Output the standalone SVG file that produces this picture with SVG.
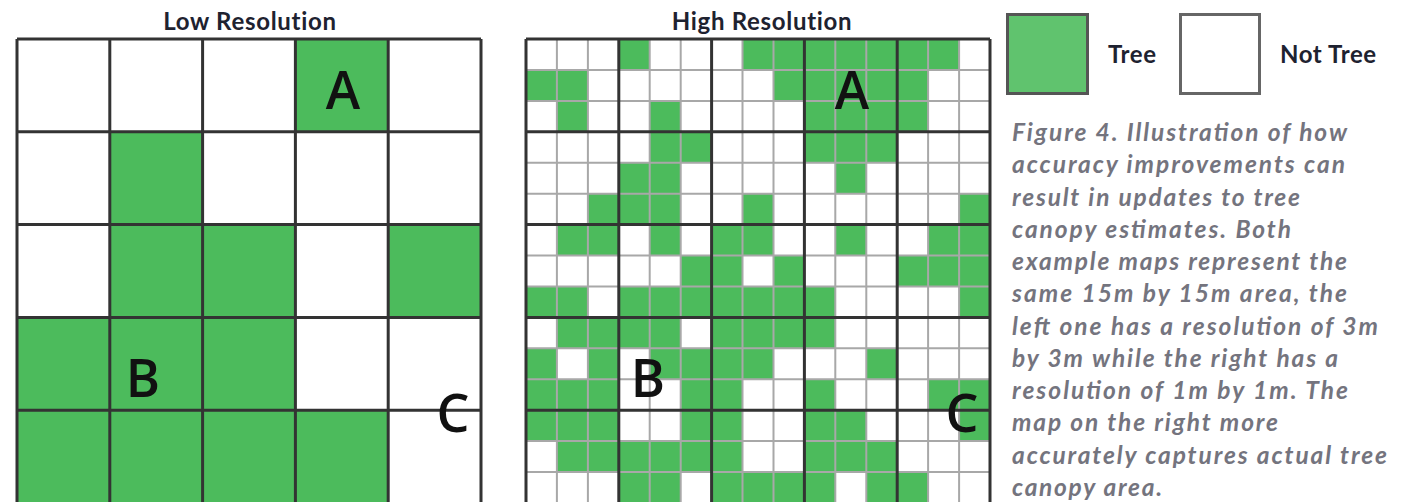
<svg xmlns="http://www.w3.org/2000/svg" width="1409" height="502" viewBox="0 0 1409 502">
<style>
.g{fill:#4cbb5c}
.thin{stroke:#a8a8a8;stroke-width:2;fill:none}
.thick{stroke:#333;stroke-width:3;fill:none}
.title{font-family:Lato,"Liberation Sans",sans-serif;font-weight:bold;font-size:24px;letter-spacing:0.7px;fill:#1e2230;text-anchor:middle}
.lbl{font-family:"Open Sans","Liberation Sans",sans-serif;font-weight:600;font-size:52px;fill:#111;text-anchor:middle}
.leg{font-family:Lato,"Liberation Sans",sans-serif;font-weight:bold;font-size:24px;letter-spacing:0.6px;fill:#1e2230}
.cap{font-family:Lato,"Liberation Sans",sans-serif;font-style:italic;font-weight:bold;font-size:24.5px;fill:#74747e}
</style>
<rect width="1409" height="502" fill="#fff"/>
<g id="low-res">
<text class="title" x="250" y="30">Low Resolution</text>
<g transform="translate(17 39) scale(92.8)">
<rect class="g" x="3" y="0" width="1" height="1"/>
<rect class="g" x="1" y="1" width="1" height="1"/>
<rect class="g" x="1" y="2" width="2" height="1"/>
<rect class="g" x="4" y="2" width="1" height="1"/>
<rect class="g" x="0" y="3" width="3" height="1"/>
<rect class="g" x="0" y="4" width="4" height="1"/>
</g>
<path class="thick" d="M17 39V503M109.8 39V503M202.6 39V503M295.4 39V503M388.2 39V503M481 39V503M17 39H481M17 131.8H481M17 224.6H481M17 317.4H481M17 410.2H481"/>
<text class="lbl" x="343" y="109">A</text>
<text class="lbl" x="143" y="397">B</text>
<text class="lbl" x="453" y="432">C</text>
</g>
<g id="high-res">
<text class="title" x="762" y="30">High Resolution</text>
<g transform="translate(526 39) scale(30.9333)">
<rect class="g" x="3" y="0" width="1" height="1"/><rect class="g" x="7" y="0" width="7" height="1"/>
<rect class="g" x="0" y="1" width="2" height="1"/><rect class="g" x="8" y="1" width="5" height="1"/>
<rect class="g" x="1" y="2" width="1" height="1"/><rect class="g" x="4" y="2" width="1" height="1"/><rect class="g" x="9" y="2" width="4" height="1"/>
<rect class="g" x="4" y="3" width="2" height="1"/><rect class="g" x="9" y="3" width="3" height="1"/>
<rect class="g" x="3" y="4" width="2" height="1"/><rect class="g" x="10" y="4" width="1" height="1"/>
<rect class="g" x="2" y="5" width="3" height="1"/><rect class="g" x="7" y="5" width="1" height="1"/><rect class="g" x="14" y="5" width="1" height="1"/>
<rect class="g" x="1" y="6" width="2" height="1"/><rect class="g" x="4" y="6" width="1" height="1"/><rect class="g" x="6" y="6" width="2" height="1"/><rect class="g" x="10" y="6" width="1" height="1"/><rect class="g" x="13" y="6" width="2" height="1"/>
<rect class="g" x="5" y="7" width="2" height="1"/><rect class="g" x="8" y="7" width="1" height="1"/><rect class="g" x="12" y="7" width="3" height="1"/>
<rect class="g" x="0" y="8" width="2" height="1"/><rect class="g" x="3" y="8" width="7" height="1"/><rect class="g" x="14" y="8" width="1" height="1"/>
<rect class="g" x="1" y="9" width="4" height="1"/><rect class="g" x="6" y="9" width="4" height="1"/>
<rect class="g" x="0" y="10" width="1" height="1"/><rect class="g" x="2" y="10" width="1" height="1"/><rect class="g" x="4" y="10" width="4" height="1"/><rect class="g" x="11" y="10" width="1" height="1"/>
<rect class="g" x="0" y="11" width="3" height="1"/><rect class="g" x="5" y="11" width="2" height="1"/><rect class="g" x="9" y="11" width="1" height="1"/><rect class="g" x="13" y="11" width="2" height="1"/>
<rect class="g" x="0" y="12" width="3" height="1"/><rect class="g" x="5" y="12" width="2" height="1"/><rect class="g" x="9" y="12" width="2" height="1"/><rect class="g" x="14" y="12" width="1" height="1"/>
<rect class="g" x="1" y="13" width="6" height="1"/><rect class="g" x="9" y="13" width="3" height="1"/>
<rect class="g" x="3" y="14" width="2" height="1"/><rect class="g" x="6" y="14" width="4" height="1"/><rect class="g" x="11" y="14" width="2" height="1"/>
</g>
<path class="thin" d="M556.9 39V503M587.9 39V503M649.7 39V503M680.7 39V503M742.5 39V503M773.5 39V503M835.3 39V503M866.3 39V503M928.1 39V503M959.1 39V503M526 69.9H990M526 100.9H990M526 162.7H990M526 193.7H990M526 255.5H990M526 286.5H990M526 348.3H990M526 379.3H990M526 441.1H990M526 472.1H990"/>
<path class="thick" d="M526 39V503M618.8 39V503M711.6 39V503M804.4 39V503M897.2 39V503M990 39V503M526 39H990M526 131.8H990M526 224.6H990M526 317.4H990M526 410.2H990"/>
<text class="lbl" x="852" y="109">A</text>
<text class="lbl" x="648" y="397">B</text>
<text class="lbl" x="962" y="432">C</text>
</g>
<g id="legend-tree">
<rect x="1007.5" y="14.5" width="80" height="79" fill="#60c36e" stroke="#555" stroke-width="3"/>
<text class="leg" x="1108" y="63">Tree</text>
</g>
<g id="legend-not-tree">
<rect x="1180.5" y="14.5" width="79" height="79" fill="#fff" stroke="#666" stroke-width="3"/>
<text class="leg" x="1280" y="63">Not Tree</text>
</g>
<g id="caption">
<text class="cap" x="1012" y="141" textLength="335" lengthAdjust="spacing">Figure 4. Illustration of how</text>
<text class="cap" x="1012" y="173" textLength="333" lengthAdjust="spacing">accuracy improvements can</text>
<text class="cap" x="1012" y="206" textLength="288" lengthAdjust="spacing">result in updates to tree</text>
<text class="cap" x="1012" y="238" textLength="279" lengthAdjust="spacing">canopy estimates. Both</text>
<text class="cap" x="1012" y="270" textLength="335" lengthAdjust="spacing">example maps represent the</text>
<text class="cap" x="1012" y="302" textLength="335" lengthAdjust="spacing">same 15m by 15m area, the</text>
<text class="cap" x="1012" y="335" textLength="366" lengthAdjust="spacing">left one has a resolution of 3m</text>
<text class="cap" x="1012" y="367" textLength="326" lengthAdjust="spacing">by 3m while the right has a</text>
<text class="cap" x="1012" y="399" textLength="336" lengthAdjust="spacing">resolution of 1m by 1m. The</text>
<text class="cap" x="1012" y="431" textLength="266" lengthAdjust="spacing">map on the right more</text>
<text class="cap" x="1012" y="464" textLength="375" lengthAdjust="spacing">accurately captures actual tree</text>
<text class="cap" x="1012" y="496" textLength="150" lengthAdjust="spacing">canopy area.</text>
</g>
</svg>
